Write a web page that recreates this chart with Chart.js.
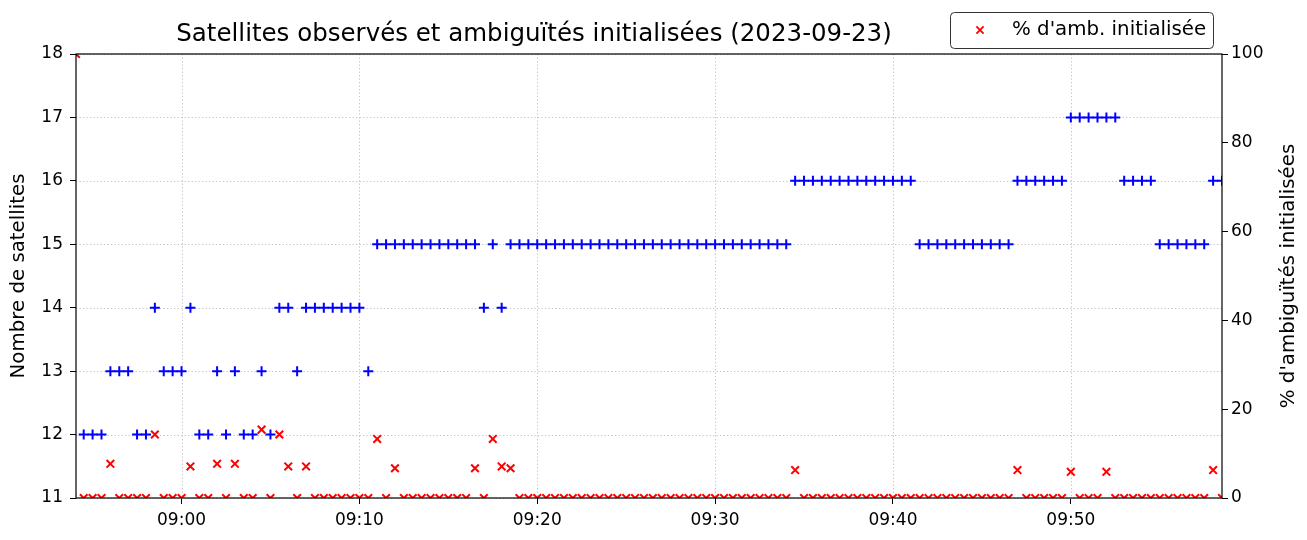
<!DOCTYPE html>
<html>
<head>
<meta charset="utf-8">
<script src="https://cdn.jsdelivr.net/npm/chart.js@4/dist/chart.umd.min.js"></script>
<style>
html,body{margin:0;padding:0;background:#fff;}
#c{display:block;}
</style>
</head>
<body>
<canvas id="c" width="1307" height="540"></canvas>
<script>
// ---- data ----
const times = [
"08:54:04","08:54:30",
"08:55:00","08:55:30","08:56:00","08:56:30","08:57:00","08:57:30","08:58:00","08:58:30","08:59:00","08:59:30",
"09:00:00","09:00:30","09:01:00","09:01:30","09:02:00","09:02:30","09:03:00","09:03:30","09:04:00","09:04:30",
"09:05:00","09:05:30","09:06:00","09:06:30","09:07:00","09:07:30","09:08:00","09:08:30","09:09:00","09:09:30",
"09:10:00","09:10:30","09:11:00","09:11:30","09:12:00","09:12:30","09:13:00","09:13:30","09:14:00","09:14:30",
"09:15:00","09:15:30","09:16:00","09:16:30","09:17:00","09:17:30","09:18:00","09:18:30","09:19:00","09:19:30",
"09:20:00","09:20:30","09:21:00","09:21:30","09:22:00","09:22:30","09:23:00","09:23:30","09:24:00","09:24:30",
"09:25:00","09:25:30","09:26:00","09:26:30","09:27:00","09:27:30","09:28:00","09:28:30","09:29:00","09:29:30",
"09:30:00","09:30:30","09:31:00","09:31:30","09:32:00","09:32:30","09:33:00","09:33:30","09:34:00","09:34:30",
"09:35:00","09:35:30","09:36:00","09:36:30","09:37:00","09:37:30","09:38:00","09:38:30","09:39:00","09:39:30",
"09:40:00","09:40:30","09:41:00","09:41:30","09:42:00","09:42:30","09:43:00","09:43:30","09:44:00","09:44:30",
"09:45:00","09:45:30","09:46:00","09:46:30","09:47:00","09:47:30","09:48:00","09:48:30","09:49:00","09:49:30",
"09:50:00","09:50:30","09:51:00","09:51:30","09:52:00","09:52:30","09:53:00","09:53:30","09:54:00","09:54:30",
"09:55:00","09:55:30","09:56:00","09:56:30","09:57:00","09:57:30","09:58:00","09:58:30"
];

const satellites = [
null,
12,12,12,13,13,13,12,12,14,13,
13,13,14,12,12,13,12,13,12,12,
13,12,14,14,13,14,14,14,14,14,
14,14,13,15,15,15,15,15,15,15,
15,15,15,15,15,14,15,14,15,15,
15,15,15,15,15,15,15,15,15,15,
15,15,15,15,15,15,15,15,15,15,
15,15,15,15,15,15,15,15,15,15,
16,16,16,16,16,16,16,16,16,16,
16,16,16,16,15,15,15,15,15,15,
15,15,15,15,15,16,16,16,16,16,
16,17,17,17,17,17,17,16,16,16,
16,15,15,15,15,15,15,16,16
];

const ambInit = [
100,
0,0,0,7.7,0,0,0,0,14.3,0,
0,0,7.1,0,0,7.7,0,7.7,0,0,
15.4,0,14.3,7.1,0,7.1,0,0,0,0,
0,0,0,13.3,0,6.7,0,0,0,0,
0,0,0,0,6.7,0,13.3,7.1,6.7,0,
0,0,0,0,0,0,0,0,0,0,
0,0,0,0,0,0,0,0,0,0,
0,0,0,0,0,0,0,0,0,0,
6.3,0,0,0,0,0,0,0,0,0,
0,0,0,0,0,0,0,0,0,0,
0,0,0,0,0,6.3,0,0,0,0,
0,5.9,0,0,0,5.9,0,0,0,0,
0,0,0,0,0,0,0,6.3,0
];

const xTickLabels = ["09:00","09:10","09:20","09:30","09:40","09:50"];
const satTicks = [11,12,13,14,15,16,17,18];
const pctTicks = [0,20,40,60,80,100];

const titleText = "Satellites observés et ambiguïtés initialisées (2023-09-23)";
const leftTitle = "Nombre de satellites";
const rightTitle = "% d'ambiguïtés initialisées";
const legendLabel = "% d'amb. initialisée";

// ---- helpers ----
function toSec(t){ const p = t.split(":").map(Number); return p[0]*3600 + p[1]*60 + (p[2]||0); }
function fmt(v){ const h = Math.floor(v/3600), m = Math.round((v - h*3600)/60); return String(h).padStart(2,"0")+":"+String(m).padStart(2,"0"); }

const satData = [];
const ambData = [];
times.forEach((t,k)=>{
  const x = toSec(t);
  if (satellites[k] !== null) satData.push({x:x, y:satellites[k]});
  if (ambInit[k] !== null) ambData.push({x:x, y:ambInit[k]});
});
const xMin = toSec(times[0]);
const xMax = toSec(times[times.length-1]);

const FONT = "DejaVu Sans";
const TICK_SIZE = 17;
const LABEL_SIZE = 19.8;
const TITLE_SIZE = 24.5;
Chart.defaults.font.family = FONT;
Chart.defaults.color = "#000";

const decor = {
  id: "decor",
  beforeDatasetsDraw(chart){
    const {ctx, chartArea:a, scales} = chart;
    ctx.save();
    ctx.strokeStyle = "#c4c4c4";
    ctx.lineWidth = 1;
    ctx.setLineDash([1.3, 2.2]);
    scales.x.ticks.forEach(t=>{
      const px = Math.round(scales.x.getPixelForValue(t.value)) + 0.5;
      ctx.beginPath(); ctx.moveTo(px, a.top); ctx.lineTo(px, a.bottom); ctx.stroke();
    });
    scales.y.ticks.forEach(t=>{
      const py = Math.round(scales.y.getPixelForValue(t.value)) + 0.5;
      ctx.beginPath(); ctx.moveTo(a.left, py); ctx.lineTo(a.right, py); ctx.stroke();
    });
    ctx.restore();
  },
  afterDraw(chart){
    const {ctx, chartArea:a} = chart;
    ctx.save();
    // frame
    ctx.strokeStyle = "#000";
    ctx.lineWidth = 1.2;
    ctx.strokeRect(a.left, a.top, a.right - a.left, a.bottom - a.top);
    // title
    ctx.fillStyle = "#000";
    ctx.font = TITLE_SIZE + "px '" + FONT + "'";
    ctx.textAlign = "center";
    ctx.textBaseline = "middle";
    ctx.fillText(titleText, 534, 35);
    // axis titles
    ctx.font = LABEL_SIZE + "px '" + FONT + "'";
    ctx.save();
    ctx.translate(19, (a.top + a.bottom)/2);
    ctx.rotate(-Math.PI/2);
    ctx.fillText(leftTitle, 0, 0);
    ctx.restore();
    ctx.save();
    ctx.translate(1289, (a.top + a.bottom)/2);
    ctx.rotate(-Math.PI/2);
    ctx.fillText(rightTitle, 0, 0);
    ctx.restore();
    // legend
    const lx = 950.5, ly = 12.5, lw = 263, lh = 36, r = 4;
    ctx.beginPath();
    ctx.moveTo(lx + r, ly);
    ctx.lineTo(lx + lw - r, ly); ctx.quadraticCurveTo(lx + lw, ly, lx + lw, ly + r);
    ctx.lineTo(lx + lw, ly + lh - r); ctx.quadraticCurveTo(lx + lw, ly + lh, lx + lw - r, ly + lh);
    ctx.lineTo(lx + r, ly + lh); ctx.quadraticCurveTo(lx, ly + lh, lx, ly + lh - r);
    ctx.lineTo(lx, ly + r); ctx.quadraticCurveTo(lx, ly, lx + r, ly);
    ctx.closePath();
    ctx.fillStyle = "rgba(255,255,255,0.9)";
    ctx.fill();
    ctx.strokeStyle = "#333";
    ctx.lineWidth = 1;
    ctx.stroke();
    ctx.strokeStyle = "#ff0000";
    ctx.lineWidth = 1.8;
    const mx = 980, my = 30, d = 3.6;
    ctx.beginPath();
    ctx.moveTo(mx - d, my - d); ctx.lineTo(mx + d, my + d);
    ctx.moveTo(mx + d, my - d); ctx.lineTo(mx - d, my + d);
    ctx.stroke();
    ctx.fillStyle = "#000";
    ctx.textAlign = "left";
    ctx.fillText(legendLabel, 1012, 30);
    ctx.restore();
  }
};

new Chart(document.getElementById("c"), {
  type: "scatter",
  data: {
    datasets: [
      {
        label: "Satellites",
        data: satData,
        yAxisID: "y",
        pointStyle: "cross",
        pointRadius: 5,
        pointHoverRadius: 5,
        borderColor: "#0000ff",
        backgroundColor: "#0000ff",
        pointBorderWidth: 2,
        borderWidth: 2,
        showLine: false,
        order: 1
      },
      {
        label: legendLabel,
        data: ambData,
        yAxisID: "y2",
        pointStyle: "crossRot",
        pointRadius: 5.4,
        pointHoverRadius: 5.4,
        borderColor: "#ff0000",
        backgroundColor: "#ff0000",
        pointBorderWidth: 2,
        borderWidth: 2,
        showLine: false,
        order: 0
      }
    ]
  },
  options: {
    responsive: false,
    animation: false,
    events: [],
    layout: { padding: { top: 54, left: 0, right: 0, bottom: 0 } },
    plugins: { legend: { display: false }, tooltip: { enabled: false }, title: { display: false } },
    scales: {
      x: {
        type: "linear",
        position: "bottom",
        min: xMin,
        max: xMax,
        afterBuildTicks(axis){ axis.ticks = xTickLabels.map(l => ({value: toSec(l)})); },
        afterFit(axis){ axis.height = 42; },
        ticks: {
          font: { size: TICK_SIZE },
          color: "#000",
          padding: 6,
          maxRotation: 0,
          autoSkip: false,
          callback: v => fmt(v)
        },
        grid: { display: true, drawOnChartArea: false, drawTicks: true, tickLength: 6, tickColor: "#000", tickWidth: 1 },
        border: { display: false }
      },
      y: {
        type: "linear",
        position: "left",
        min: 11,
        max: 18,
        afterBuildTicks(axis){ axis.ticks = satTicks.map(v => ({value: v})); },
        afterFit(axis){ axis.width = 76; },
        ticks: { font: { size: TICK_SIZE }, color: "#000", padding: 7, callback: v => String(v) },
        grid: { display: true, drawOnChartArea: false, drawTicks: true, tickLength: 6, tickColor: "#000", tickWidth: 1 },
        border: { display: false }
      },
      y2: {
        type: "linear",
        position: "right",
        min: 0,
        max: 100,
        afterBuildTicks(axis){ axis.ticks = pctTicks.map(v => ({value: v})); },
        afterFit(axis){ axis.width = 85; },
        ticks: { font: { size: TICK_SIZE }, color: "#000", padding: 3, callback: v => String(v) },
        grid: { display: true, drawOnChartArea: false, drawTicks: true, tickLength: 6, tickColor: "#000", tickWidth: 1 },
        border: { display: false }
      }
    }
  },
  plugins: [decor]
});
</script>
</body>
</html>
